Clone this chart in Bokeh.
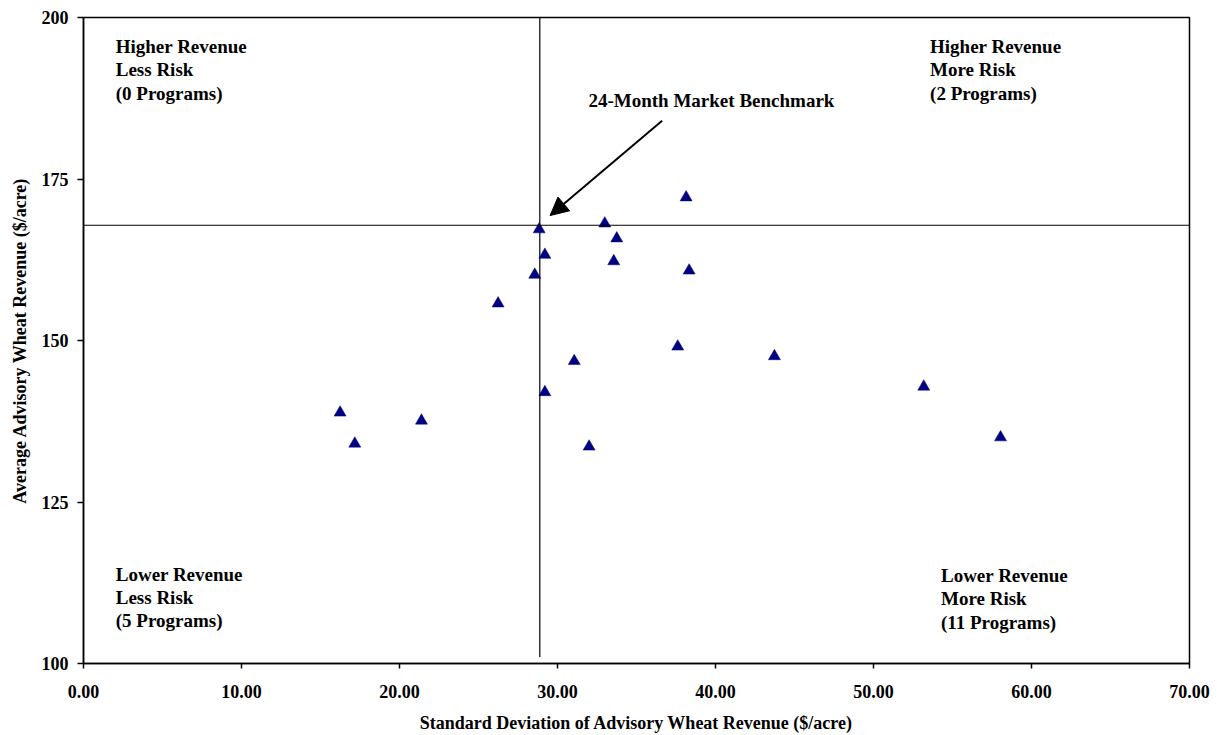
from bokeh.plotting import figure
from bokeh.models import (Range1d, FixedTicker, NumeralTickFormatter, Span, Arrow,
                          NormalHead, ColumnDataSource)
from bokeh.core.properties import value
from bokeh.embed import file_html
from bokeh.resources import INLINE

# ---------------- data ----------------
std_dev = [16.24, 17.17, 21.39, 26.24, 28.56, 28.84, 29.20, 29.20, 31.06, 32.00,
           32.99, 33.75, 33.56, 38.14, 38.33, 37.61, 43.73, 53.18, 58.04]
avg_rev = [138.83, 134.03, 137.59, 155.73, 160.17, 167.20, 163.26, 142.00, 146.81, 133.57,
           168.10, 165.80, 162.26, 172.15, 160.82, 149.06, 147.56, 142.85, 135.00]

bench_sd = 28.88
bench_rev = 167.84
bench_label = "24-Month Market Benchmark"

x_ticks = [0, 10, 20, 30, 40, 50, 60, 70]
y_ticks = [100, 125, 150, 175, 200]

quad_text = [["Higher Revenue", "Less Risk", "(0 Programs)"],
             ["Higher Revenue", "More Risk", "(2 Programs)"],
             ["Lower Revenue", "Less Risk", "(5 Programs)"],
             ["Lower Revenue", "More Risk", "(11 Programs)"]]

x_title = "Standard Deviation of Advisory Wheat Revenue ($/acre)"
y_title = "Average Advisory Wheat Revenue ($/acre)"

# ---------------- layout constants ----------------
quad_pos = [(2.04, 195.5), (53.58, 195.5), (2.04, 113.8), (54.27, 113.6)]
line_step = 23.3
label_pos = (31.96, 187.1)
arrow_from = (36.62, 184.03)
arrow_to = (29.53, 169.34)
FONT = "Liberation Serif"

p = figure(width=1215, height=735, output_backend="svg", toolbar_location=None,
           x_range=Range1d(0, 70), y_range=Range1d(100, 200),
           min_border_left=83, min_border_top=17, min_border_right=26, min_border_bottom=71)
p.background_fill_color = "white"
p.border_fill_color = "white"
p.outline_line_color = "black"
p.outline_line_width = 1.5
p.xgrid.visible = False
p.ygrid.visible = False

for ax in (p.xaxis, p.yaxis):
    ax.axis_line_color = "black"
    ax.axis_line_width = 1.5
    ax.major_tick_line_color = "black"
    ax.major_tick_line_width = 1.5
    ax.major_tick_in = 0
    ax.minor_tick_line_color = None
    ax.major_label_text_font = FONT
    ax.major_label_text_font_style = "bold"
    ax.major_label_text_font_size = "18px"
    ax.major_label_text_color = "black"
    ax.axis_label_text_font = FONT
    ax.axis_label_text_font_style = "bold"
    ax.axis_label_text_font_size = "18px"
    ax.axis_label_text_color = "black"

p.xaxis.ticker = FixedTicker(ticks=x_ticks)
p.yaxis.ticker = FixedTicker(ticks=y_ticks)
p.xaxis.formatter = NumeralTickFormatter(format="0.00")
p.yaxis.formatter = NumeralTickFormatter(format="0")
p.xaxis.axis_label = x_title
p.yaxis.axis_label = y_title
p.xaxis.major_tick_out = 5
p.xaxis.major_label_standoff = 16
p.xaxis.axis_label_standoff = 12
p.xaxis.axis_label_text_line_height = 1.0
p.yaxis.major_tick_out = 6
p.yaxis.major_label_standoff = 9
p.yaxis.axis_label_standoff = 9

# benchmark cross lines
p.add_layout(Span(location=bench_rev, dimension="width", line_color="black", line_width=1.2))
p.segment(x0=[bench_sd], y0=[p.y_range.start + 1], x1=[bench_sd], y1=[p.y_range.end],
          line_color="black", line_width=1.2)

# points
src = ColumnDataSource(dict(x=std_dev, y=avg_rev))
p.scatter("x", "y", source=src, marker="triangle", size=12,
          fill_color="#000080", line_color="#000080", line_width=0.5)

# quadrant labels
qx, qy, qt, qoff = [], [], [], []
for (ax_, ay_), lines in zip(quad_pos, quad_text):
    for i, t in enumerate(lines):
        qx.append(ax_)
        qy.append(ay_)
        qt.append(t)
        qoff.append(i * line_step)
qsrc = ColumnDataSource(dict(x=qx, y=qy, text=qt, off=qoff))
p.text("x", "y", text="text", y_offset="off", source=qsrc,
       text_font=value(FONT), text_font_style="bold", text_font_size="19px",
       text_color="black", text_align="left", text_baseline="alphabetic")

# benchmark label and arrow
p.text(x=[label_pos[0]], y=[label_pos[1]], text=[bench_label],
       text_font=value(FONT), text_font_style="bold", text_font_size="19px",
       text_color="black", text_align="left", text_baseline="alphabetic")
p.add_layout(Arrow(end=NormalHead(size=18, fill_color="black", line_color="black"),
                   x_start=arrow_from[0], y_start=arrow_from[1],
                   x_end=arrow_to[0], y_end=arrow_to[1],
                   line_color="black", line_width=2))

open("out.html", "w").write(file_html(p, INLINE))
